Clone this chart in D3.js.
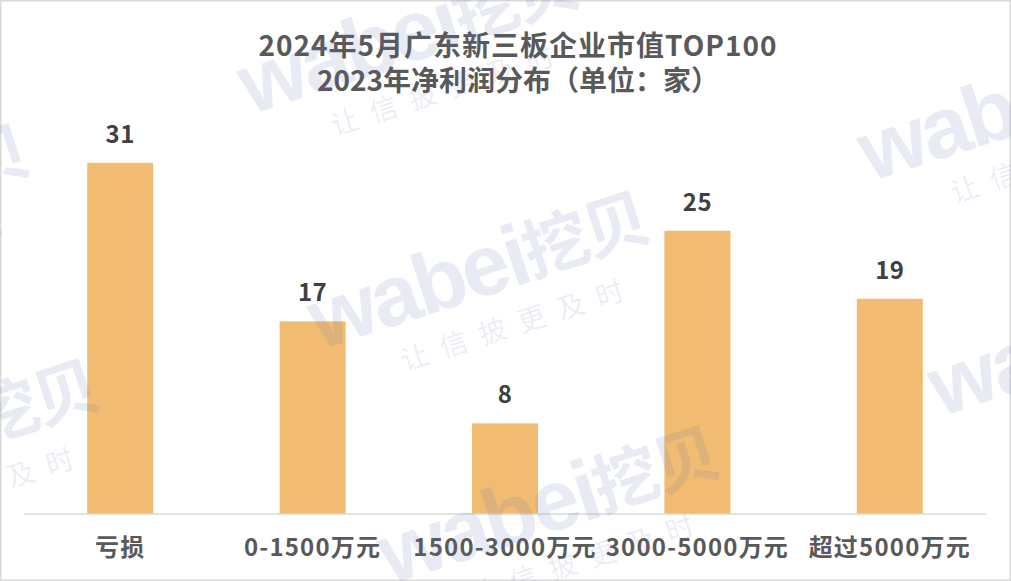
<!DOCTYPE html>
<html><head><meta charset="utf-8">
<script src="https://cdn.jsdelivr.net/npm/d3@7"></script>
<style>body{margin:0;background:#fff;}svg{display:block;}</style>
</head><body>
<svg id="c" width="1011" height="581"></svg>
<script>
const categories = ["亏损", "0-1500万元", "1500-3000万元", "3000-5000万元", "超过5000万元"];
const values = [31, 17, 8, 25, 19];
const titleLines = ["2024年5月广东新三板企业市值TOP100", "2023年净利润分布（单位：家）"];

const W = 1011, H = 581;
const svg = d3.select("#c");
const font = "'Noto Sans CJK SC','Microsoft YaHei',sans-serif";

svg.append("rect").attr("x",0.75).attr("y",0.75).attr("width",W-1.5).attr("height",H-1.5)
  .attr("fill","#fff").attr("stroke","#d9d9d9").attr("stroke-width",1.5);

const x = d3.scaleBand().domain(categories).range([24, 986]).paddingInner(0.657).paddingOuter(0.3285);
const y = d3.scaleLinear().domain([0, 35]).range([514, 117.5]);

svg.append("g").selectAll("rect").data(values).join("rect")
  .attr("x",(d,i)=>x(categories[i])).attr("width",x.bandwidth())
  .attr("y",d=>y(d)).attr("height",d=>y(0)-y(d)).attr("fill","#F1BC71");

svg.append("g").selectAll("text").data(values).join("text")
  .attr("x",(d,i)=>x(categories[i])+x.bandwidth()/2).attr("y",d=>y(d)-20)
  .attr("text-anchor","middle").attr("font-family",font).attr("font-weight","bold")
  .attr("font-size",24).attr("letter-spacing",0.5).attr("fill","#404040").text(d=>d);

const axis = svg.append("g").attr("transform","translate(0,514)")
  .call(d3.axisBottom(x).tickSize(0).tickPadding(0));
axis.select(".domain").attr("stroke","#d9d9d9").attr("stroke-width",1.5).attr("d","M24,0H986");
axis.selectAll("text").attr("font-family",font).attr("font-weight","bold").attr("font-size",24)
  .attr("letter-spacing",1.2).attr("fill","#595959").attr("dy",0).attr("y",42);

svg.append("g").selectAll("text").data(titleLines).join("text")
  .attr("x",518).attr("y",(d,i)=>56+i*35).attr("text-anchor","middle")
  .attr("font-family",font).attr("font-weight","bold").attr("font-size",28).attr("letter-spacing",(d,i)=>i?0:1)
  .attr("fill","#595959")
  .text(d=>d);

// watermark tiles
const wm = svg.append("g").attr("pointer-events","none");
const origins = [];
for (let a=-2;a<=2;a++) for (let b=-2;b<=2;b++) origins.push([320+550*a+70*b, 350-168*a+235*b]);
origins.forEach(o=>{
  const g = wm.append("g").attr("transform",`translate(${o[0]},${o[1]}) rotate(-18)`);
  const t = g.append("text").attr("font-family","'Liberation Sans',Arial,sans-serif").attr("font-weight","bold")
    .attr("font-size",86).attr("letter-spacing",-3).attr("fill","rgba(100,110,180,0.14)");
  t.append("tspan").text("wabei");
  t.append("tspan").attr("font-family",font).attr("font-size",66).attr("dy",-4).text("挖贝");
  g.append("text").attr("x",74).attr("y",46).attr("font-family",font).attr("font-size",28)
    .attr("letter-spacing",13).attr("fill","rgba(100,110,180,0.12)").text("让信披更及时");
});
</script>
</body></html>
